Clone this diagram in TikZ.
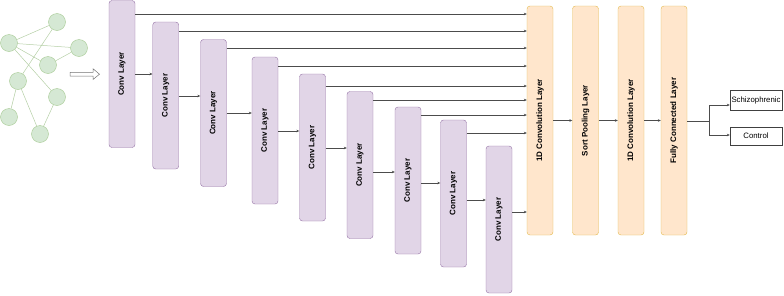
\documentclass[tikz,border=0pt]{standalone}
\usepackage{fontspec}
\setmainfont{Liberation Sans}
\usetikzlibrary{arrows.meta}
\definecolor{convfill}{HTML}{E1D5E7}
\definecolor{convline}{HTML}{9673A6}
\definecolor{layfill}{HTML}{FFE6CC}
\definecolor{layline}{HTML}{D79B00}
\definecolor{gfill}{HTML}{D5E8D4}
\definecolor{gline}{HTML}{82B366}
\definecolor{gedge}{HTML}{B5CFA6}
\begin{document}
\begin{tikzpicture}[x=1pt,y=-1pt,
    conv/.style={draw=convline, fill=convfill, rounded corners=3pt, minimum width=26pt, minimum height=147pt, inner sep=0pt, font=\fontsize{8}{9}\selectfont\bfseries},
    layer/.style={draw=layline!70, fill=layfill, rounded corners=3pt, minimum width=26pt, minimum height=229pt, inner sep=0pt, font=\fontsize{8}{9}\selectfont\bfseries},
    outbox/.style={draw=black!75, minimum width=52pt, inner sep=0pt, font=\fontsize{7.8}{9}\selectfont},
    gnode/.style={circle, draw=gline!70, fill=gfill, minimum size=17pt, inner sep=0pt},
    arr/.style={-{Stealth[length=3pt,width=2.6pt]}, black!70, line width=0.5pt}]
    \useasboundingbox (0,0) rectangle (784,295);

    % 输入图
    \node[gnode] (g1) at (57,22) {};
    \node[gnode] (g2) at (9,43) {};
    \node[gnode] (g3) at (79,48) {};
    \node[gnode] (g4) at (48,65) {};
    \node[gnode] (g5) at (18,81) {};
    \node[gnode] (g6) at (57,97) {};
    \node[gnode] (g7) at (9,117) {};
    \node[gnode] (g8) at (40,134) {};
    \foreach \a/\b in {2/1, 2/3, 2/4, 2/6, 4/3, 5/1, 5/7, 5/8, 6/8}
        \draw[gedge, line width=0.5pt] (g\a) -- (g\b);

    % 空心箭头
    \draw[black!55, line width=0.5pt] (70,72.3) -- (93,72.3) -- (93,68.7) -- (99.5,74.2)
        -- (93,79.5) -- (93,76) -- (70,76) -- cycle;

    % 卷积层
    \foreach \i/\x/\y in {1/122/74, 2/165.7/95.5, 3/213.5/113, 4/265/130.5, 5/312.5/147.5,
                          6/360/165, 7/408/180.5, 8/453.5/193.5, 9/499/219.5}
        \node[conv] (c\i) at (\x,\y) {\rotatebox{90}{Conv Layer}};

    % 后续层
    \node[layer] (oned) at (540,120.5) {\rotatebox{90}{1D Convolution Layer}};
    \node[layer] (sortp) at (585.5,120.5) {\rotatebox{90}{Sort Pooling Layer}};
    \node[layer] (onedb) at (631,120.5) {\rotatebox{90}{1D Convolution Layer}};
    \node[layer] (fc) at (674,120.5) {\rotatebox{90}{Fully Connected Layer}};

    % 输出
    \node[outbox, minimum height=20pt] (schiz) at (756,100) {Schizophrenic};
    \node[outbox, minimum height=18pt] (ctrl) at (756,136) {Control};

    % 卷积层之间的箭头
    \foreach \i/\j/\y in {1/2/74, 2/3/96, 3/4/113, 4/5/131, 5/6/148, 6/7/172, 7/8/183, 8/9/200}
        \draw[arr] (c\i.east |- 0,\y) -- (c\j.west |- 0,\y);
    \draw[arr] (c9.east |- 0,212) -- (oned.west |- 0,212);

    % 跳跃连接
    \foreach \i/\y in {1/14, 2/31, 3/48, 4/66, 5/86, 6/100, 7/115, 8/133}
        \draw[arr] (c\i.east |- 0,\y) -- (oned.west |- 0,\y);

    % 层间箭头
    \draw[arr] (oned) -- (sortp);
    \draw[arr] (sortp) -- (onedb);
    \draw[arr] (onedb) -- (fc);

    % 分类分支
    \coordinate (br) at (709,121);
    \draw[black!70, line width=0.5pt] (fc.east |- br) -- (br);
    \draw[arr] (br) |- (schiz.west |- 0,105);
    \draw[arr] (br) |- (ctrl.west |- 0,135);
\end{tikzpicture}
\end{document}
